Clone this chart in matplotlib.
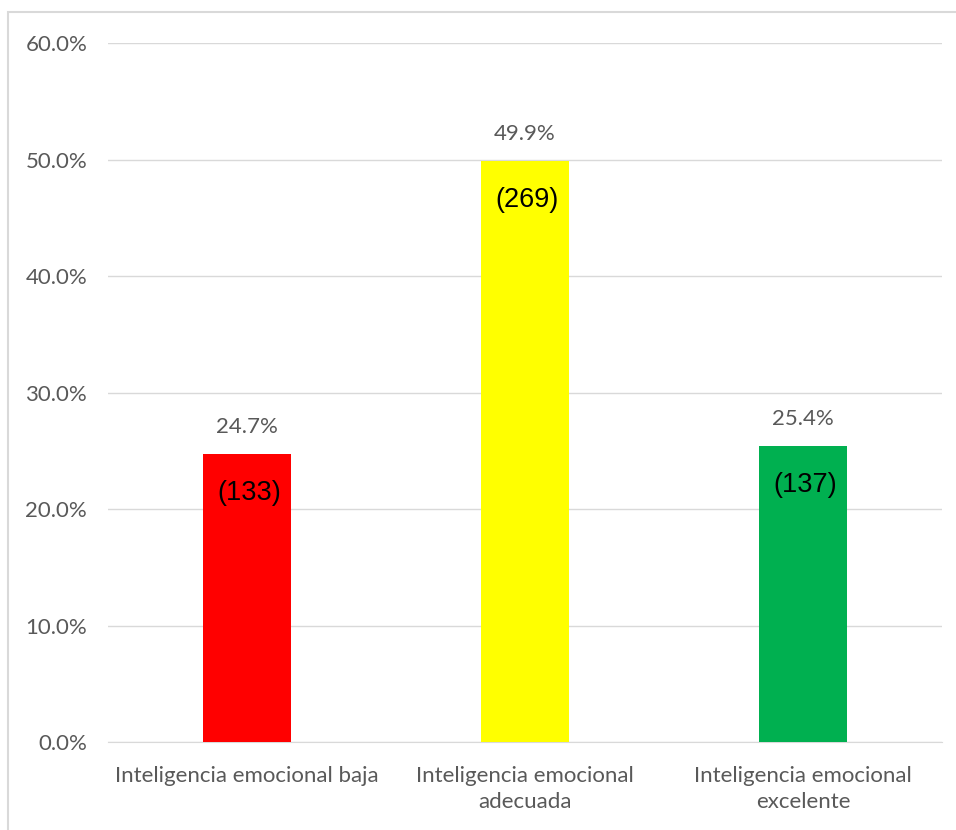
import matplotlib
matplotlib.use("Agg")
import matplotlib.pyplot as plt
from matplotlib.patches import Rectangle

categories = ["Inteligencia emocional baja", "Inteligencia emocional\nadecuada", "Inteligencia emocional\nexcelente"]
percentages = [24.7, 49.9, 25.4]
counts = [133, 269, 137]
colors = ["#ff0000", "#ffff00", "#00b050"]
yticks = [0, 10, 20, 30, 40, 50, 60]

W, H = 956, 830
fig = plt.figure(figsize=(W / 100, H / 100), dpi=100)
fig.patches.append(Rectangle((8 / W, -0.1), 1.1, 1.1 - 12 / H, transform=fig.transFigure,
                             fill=False, edgecolor="#d9d9d9", linewidth=1.5, zorder=0))
ax = fig.add_axes([108 / W, 1 - 742 / H, (942 - 108) / W, (742 - 43) / H])

x = list(range(len(categories)))
ax.bar(x, percentages, width=0.317, color=colors, zorder=3)
ax.set_xlim(-0.5, 2.5)
ax.set_ylim(0, 60)
ax.set_yticks(yticks)
ax.set_yticklabels([f"{v:.1f}%" for v in yticks])
ax.set_xticks(x)
ax.set_xticklabels(categories)
ax.grid(axis="y", color="#d9d9d9", linewidth=1, zorder=0)
for s in ["top", "right", "left"]:
    ax.spines[s].set_visible(False)
ax.spines["bottom"].set_color("#d9d9d9")
ax.tick_params(axis="both", length=0, labelsize=16, colors="#595959")
ax.tick_params(axis="y", pad=15)
ax.tick_params(axis="x", pad=17)
for lab in ax.get_xticklabels() + ax.get_yticklabels():
    lab.set_family("Lato")
    lab.set_linespacing(1.38)

for xi, p, c in zip(x, percentages, counts):
    ax.annotate(f"{p:.1f}%", (xi, p), xytext=(0, 27), textcoords="offset pixels",
                ha="center", va="center", fontsize=16, color="#595959", family="Lato")
    ax.annotate(f"({c})", (xi, p), xytext=(2, -39), textcoords="offset pixels",
                ha="center", va="center", fontsize=19.5, color="black", family="Liberation Sans", zorder=4)

fig.savefig("out.png", dpi=100)
